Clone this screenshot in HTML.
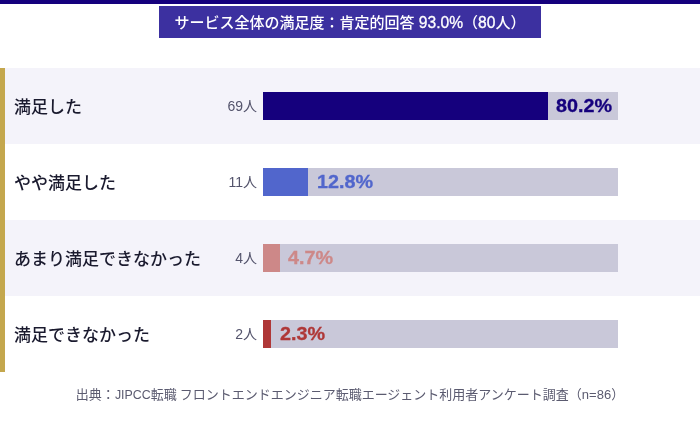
<!DOCTYPE html>
<html lang="ja">
<head>
<meta charset="utf-8">
<title>サービス全体の満足度</title>
<style>
html,body{margin:0;padding:0;}
body{width:700px;height:422px;position:relative;overflow:hidden;background:#fff;
  font-family:"Liberation Sans","Noto Sans CJK JP",sans-serif;color:#1b1b3a;}
.topbar{position:absolute;left:0;top:0;width:700px;height:4px;background:#15007d;}
.title{position:absolute;left:159px;top:6px;width:382px;height:32px;background:#3c30a0;color:#fff;
  font-size:15px;font-weight:500;line-height:34px;text-align:center;white-space:nowrap;}
.tn{font-size:15.6px;-webkit-text-stroke:0.3px #fff;}
.gold{position:absolute;left:0;top:68px;width:5px;height:304px;background:#c4a74d;}
.row{position:absolute;left:5px;width:695px;height:76px;}
.row.alt{background:#f4f3fa;}
.label{position:absolute;left:9px;top:2px;height:76px;line-height:76px;font-size:17px;font-weight:500;white-space:nowrap;color:#1a1a2e;}
.count{position:absolute;right:443px;top:0;height:76px;line-height:76px;font-size:14px;color:#54546c;white-space:nowrap;}
.track{position:absolute;left:258px;top:24px;width:355px;height:28px;background:#c9c8d9;}
.fill{position:absolute;left:0;top:0;height:28px;}
.pct{position:absolute;top:0.4px;margin-left:0.5px;-webkit-text-stroke:0.3px currentColor;height:28px;line-height:28px;font-size:17.6px;font-weight:700;white-space:nowrap;transform:scaleX(1.122);transform-origin:0 50%;}
.foot{position:absolute;left:0;top:385px;width:700px;text-align:center;font-size:13px;line-height:20px;color:#5b5b70;white-space:nowrap;}
</style>
</head>
<body>
<div class="topbar"></div>
<div class="title">サービス全体の満足度：肯定的回答 <span class="tn">93.0%</span>（<span class="tn">80</span>人）</div>
<div class="gold"></div>

<div class="row alt" style="top:68px">
  <div class="label">満足した</div>
  <div class="count">69人</div>
  <div class="track"><div class="fill" style="width:284.7px;background:#15007d"></div><div class="pct" style="left:292.7px;color:#15007d">80.2%</div></div>
</div>
<div class="row" style="top:144px">
  <div class="label">やや満足した</div>
  <div class="count">11人</div>
  <div class="track"><div class="fill" style="width:45.4px;background:#5166cc"></div><div class="pct" style="left:53.4px;color:#5166cc">12.8%</div></div>
</div>
<div class="row alt" style="top:220px">
  <div class="label">あまり満足できなかった</div>
  <div class="count">4人</div>
  <div class="track"><div class="fill" style="width:16.7px;background:#cd8888"></div><div class="pct" style="left:24.7px;color:#cd8888">4.7%</div></div>
</div>
<div class="row" style="top:296px">
  <div class="label">満足できなかった</div>
  <div class="count">2人</div>
  <div class="track"><div class="fill" style="width:8.2px;background:#af3737"></div><div class="pct" style="left:16.2px;color:#af3737">2.3%</div></div>
</div>

<div class="foot">出典：<span style="font-size:12.4px">JIPCC</span>転職<span style="font-size:10.5px"> </span>フロントエンドエンジニア転職エージェント利用者アンケート調査（n=86）</div>
</body>
</html>
